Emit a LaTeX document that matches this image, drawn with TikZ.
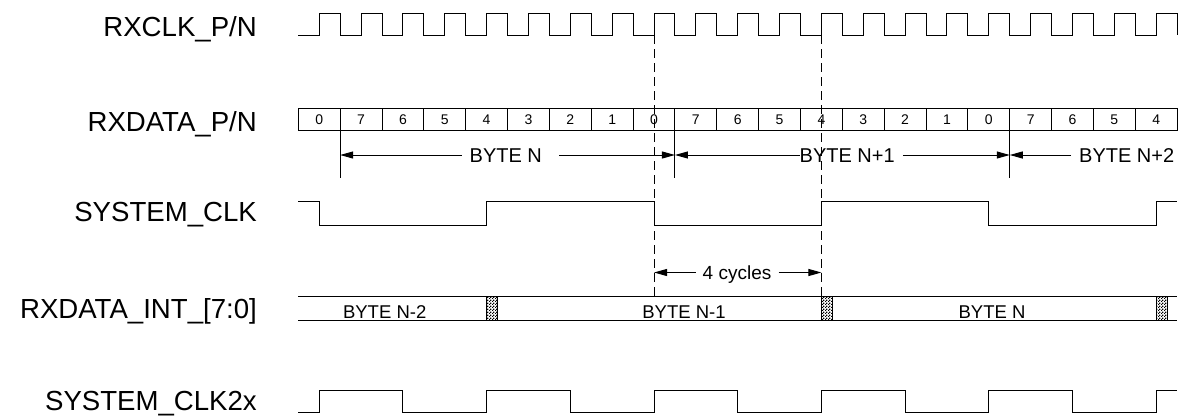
\documentclass[tikz,border=0pt]{standalone}
\usepackage{fontspec}
\setmainfont{Liberation Sans}
\usetikzlibrary{arrows.meta,patterns}
\pgfdeclarepatternformonly{finechk}{\pgfpointorigin}{\pgfpoint{3pt}{3pt}}{\pgfpoint{3pt}{3pt}}{%
  \pgfpathrectangle{\pgfpointorigin}{\pgfpoint{1.5pt}{1.5pt}}%
  \pgfpathrectangle{\pgfpoint{1.5pt}{1.5pt}}{\pgfpoint{1.5pt}{1.5pt}}%
  \pgfusepath{fill}}
\newcommand\tcx[1]{298.3+(#1)*41.85}
\begin{document}
\begin{tikzpicture}[x=1pt,y=-1pt,
  sig/.style={line width=1pt,black},
  lbl/.style={font=\fontsize{27.6}{30}\selectfont, anchor=base east, inner sep=0pt},
  bit/.style={font=\fontsize{14}{16}\selectfont, anchor=base, inner sep=0pt},
  bytelbl/.style={font=\fontsize{20}{22}\selectfont, text height=14.3pt, text depth=0pt, inner sep=0pt},
  buslbl/.style={font=\fontsize{18.5}{20}\selectfont, anchor=base, inner sep=0pt},
  marker/.style={line width=1pt, dash pattern=on 9pt off 5pt},
  tip/.style={line width=1pt,-{Triangle[length=13pt,width=7pt]}},
  hatch/.style={line width=0.8pt, draw=black, pattern=finechk}]
\useasboundingbox (0,0) rectangle (1183,418);
% signal names
\node[lbl] (l1) at (257,36.7) {RXCLK\_P/N};
\node[lbl] (l2) at (257,131) {RXDATA\_P/N};
\node[lbl] (l3) at (257,221.7) {SYSTEM\_CLK};
\node[lbl] (l4) at (257,318.3) {RXDATA\_INT\_[7:0]};
\node[lbl] (l5) at (257,410) {SYSTEM\_CLK2x};
% RXCLK
\draw[sig] (298.3,35) \foreach \i in {0,...,20}{ -- ({\tcx{\i+0.5}},35) -- ({\tcx{\i+0.5}},13) -- ({\tcx{\i+1}},13) -- ({\tcx{\i+1}},35) };
% RXDATA cells
\draw[sig] (298.3,108.5) rectangle ({\tcx{21}},130);
\foreach \i in {1,...,20} \draw[sig] ({\tcx{\i}},108.5) -- ({\tcx{\i}},130);
\foreach \d [count=\i from 0] in {0,7,6,5,4,3,2,1,0,7,6,5,4,3,2,1,0,7,6,5,4}
  \node[bit] (d\i) at ({\tcx{\i+0.5}},124.3) {\d};
% byte ticks
\coordinate (t1) at ({\tcx{1}},130);
\coordinate (t2) at ({\tcx{9}},130);
\coordinate (t3) at ({\tcx{17}},130);
\foreach \t in {t1,t2,t3} \draw[sig] (\t) -- ++(0,48);
\coordinate (a1) at ({\tcx{1}},155);
\coordinate (a2) at ({\tcx{9}},155);
\coordinate (a3) at ({\tcx{17}},155);
\node[bytelbl, anchor=west] (bN) at (469.5,155) {BYTE N};
\node[bytelbl, anchor=west] (bN1) at (799.5,155) {BYTE N+1};
\node[bytelbl, anchor=west] (bN2) at (1079,155) {BYTE N+2};
\draw[tip] ([xshift=-8pt]bN.west) -- (a1);
\draw[tip] ([xshift=17pt]bN.east) -- (a2);
\draw[tip] (bN1.west) -- (a2);
\draw[tip] ([xshift=8pt]bN1.east) -- (a3);
\draw[tip] ([xshift=-8pt]bN2.west) -- (a3);
% SYSTEM_CLK
\draw[sig] (298.3,201.7) -- ({\tcx{0.5}},201.7) -- ({\tcx{0.5}},225.3) -- ({\tcx{4.5}},225.3)
  -- ({\tcx{4.5}},201.7) -- ({\tcx{8.5}},201.7) -- ({\tcx{8.5}},225.3) -- ({\tcx{12.5}},225.3)
  -- ({\tcx{12.5}},201.7) -- ({\tcx{16.5}},201.7) -- ({\tcx{16.5}},225.3) -- ({\tcx{20.5}},225.3)
  -- ({\tcx{20.5}},201.7) -- ({\tcx{21}},201.7);
% 4 cycles
\coordinate (c1) at ({\tcx{8.5}},272.5);
\coordinate (c2) at ({\tcx{12.5}},272.5);
\node[bytelbl, font=\fontsize{19}{21}\selectfont, text height=13.6pt, anchor=west] (cyc) at (702.5,272.5) {4 cycles};
\draw[tip] ([xshift=-7pt]cyc.west) -- (c1);
\draw[tip] ([xshift=7pt]cyc.east) -- (c2);
% RXDATA_INT bus
\draw[sig] (298.3,296.7) -- ({\tcx{21}},296.7);
\draw[sig] (298.3,320) -- ({\tcx{21}},320);
\foreach \k in {4,12,20} \draw[hatch] ({\tcx{\k+0.5}},296.7) rectangle ++(11,23.3);
\node[buslbl] (i1) at (384.7,318.3) {BYTE N-2};
\node[buslbl] (i2) at (684,318.3) {BYTE N-1};
\node[buslbl] (i3) at (992,318.3) {BYTE N};
% SYSTEM_CLK2x
\draw[sig] (298.3,412.7) -- ({\tcx{0.5}},412.7)
  \foreach \k in {0,4,8,12,16} { -- ({\tcx{\k+0.5}},390) -- ({\tcx{\k+2.5}},390) -- ({\tcx{\k+2.5}},412.7) -- ({\tcx{\k+4.5}},412.7) }
  -- ({\tcx{20.5}},390) -- ({\tcx{21}},390);
% dashed markers
\coordinate (v1t) at ({\tcx{8.5}},35);
\coordinate (v1b) at ({\tcx{8.5}},296.7);
\coordinate (v2t) at ({\tcx{12.5}},35);
\coordinate (v2b) at ({\tcx{12.5}},296.7);
\draw[marker] (v1t) -- (v1b);
\draw[marker] (v2t) -- (v2b);
\end{tikzpicture}
\end{document}
